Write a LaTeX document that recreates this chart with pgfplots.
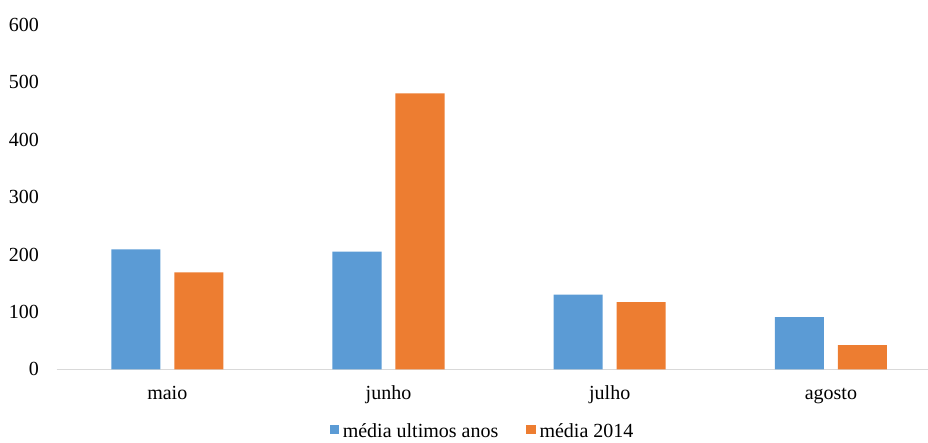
\documentclass[border=0pt]{standalone}
\usepackage{pgfplots}
\pgfplotsset{compat=1.18}
\usepackage{fontspec}
\setmainfont{Liberation Serif}

\definecolor{barblue}{HTML}{5B9BD5}
\definecolor{barorange}{HTML}{ED7D31}
\definecolor{axisgray}{HTML}{D9D9D9}

\begin{document}
\fontsize{10pt}{12pt}\selectfont
\begin{tikzpicture}
\path[use as bounding box] (-28.35pt,-36.85pt) rectangle (435.65pt,184.65pt);
\begin{axis}[
  at={(0pt,0pt)}, anchor=south west,
  scale only axis,
  width=435.65pt, height=172.15pt,
  xmin=-0.5, xmax=3.439,
  ymin=0, ymax=600,
  ytick={0,100,...,600},
  xtick={0,1,2,3},
  xticklabels={maio,junho,julho,agosto},
  axis x line*=bottom,
  axis y line*=left,
  y axis line style={draw=none},
  x axis line style={draw=axisgray, line width=0.6pt, -},
  major tick length=0pt,
  tick style={draw=none},
  /pgf/number format/assume math mode=true,
  ticklabel style={font=\fontsize{10pt}{12pt}\selectfont},
  yticklabel style={anchor=east, xshift=-5.4pt},
  xticklabel style={anchor=north, yshift=-4.5pt, text height=7pt, text depth=2pt},
  ybar, bar width=0.2216,
  legend columns=2,
  legend style={
    draw=none, fill=none,
    at={(213.4pt,-31.2pt)}, anchor=center,
    font=\fontsize{10pt}{12pt}\selectfont,
    /tikz/every even column/.append style={column sep=12pt},
  },
  legend cell align=left,
]
\addplot[fill=barblue, draw=none, bar shift=-0.1424,
  legend image code/.code={\fill[barblue] (0pt,-1.4pt) rectangle (4.6pt,3.2pt);}]
  coordinates {(0,209) (1,205) (2,130) (3,91)};
\addlegendentry{média ultimos anos}
\addplot[fill=barorange, draw=none, bar shift=0.1424,
  legend image code/.code={\fill[barorange] (0pt,-1.4pt) rectangle (4.6pt,3.2pt);}]
  coordinates {(0,169) (1,481) (2,117) (3,42)};
\addlegendentry{média 2014}
\end{axis}
\end{tikzpicture}
\end{document}
